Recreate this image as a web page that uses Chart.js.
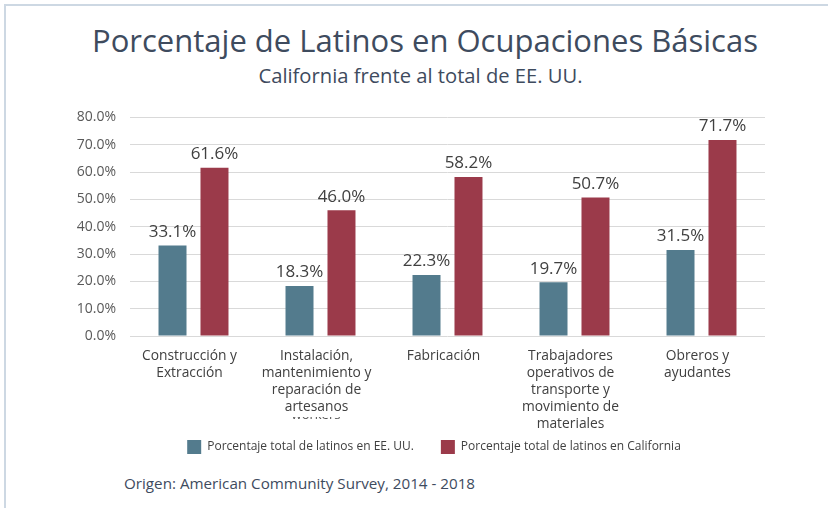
<!DOCTYPE html>
<html>
<head>
<meta charset="utf-8">
<script src="https://cdn.jsdelivr.net/npm/chart.js@4"></script>
<style>
  body { margin: 0; background: #fff; font-family: "Open Sans", sans-serif; }
  #page { position: relative; width: 828px; height: 508px; overflow: hidden; }
  #frame { position: absolute; left: 4px; top: 4px; right: 0; bottom: 0;
           border-left: 2px solid #cdd8e3; border-top: 2px solid #cdd8e3; }
  #title { position: absolute; left: 0; width: 850px; top: 19px; text-align: center;
           font-size: 31px; color: #3e4b5e; }
  #subtitle { position: absolute; left: 0; width: 841px; top: 61px; text-align: center;
              font-size: 20.2px; color: #3e4b5e; }
  #source { position: absolute; left: 124px; top: 473px; font-size: 15.2px; color: #3e4b5e; }
  #cut { position: absolute; left: 275px; width: 82px; top: 417px; height: 4px; overflow: hidden;
         text-align: center; font-size: 13px; color: #555; }
  #cut span { position: relative; top: -12px; }
  #wrap { position: absolute; left: 0; top: 95px; width: 828px; height: 371px; }
</style>
</head>
<body>
<div id="page">
  <div id="frame"></div>
  <div id="title">Porcentaje de Latinos en Ocupaciones Básicas</div>
  <div id="subtitle">California frente al total de EE. UU.</div>
  <div id="wrap"><canvas id="chart"></canvas></div>
  <div id="cut"><span>workers</span></div>
  <div id="source">Origen: American Community Survey, 2014 - 2018</div>
</div>
<script>
  var categories = [
    ["Construcción y", "Extracción"],
    ["Instalación,", "mantenimiento y", "reparación de", "artesanos"],
    ["Fabricación"],
    ["Trabajadores", "operativos de", "transporte y", "movimiento de", "materiales"],
    ["Obreros y", "ayudantes"]
  ];
  var usValues = [33.1, 18.3, 22.3, 19.7, 31.5];
  var caValues = [61.6, 46.0, 58.2, 50.7, 71.7];
  var seriesNames = ["Porcentaje total de latinos en EE. UU.", "Porcentaje total de latinos en California"];

  var blue = "#537b8d";
  var red = "#9b3a4a";

  var valueLabels = {
    id: "valueLabels",
    afterDatasetsDraw: function (chart) {
      var ctx = chart.ctx;
      ctx.save();
      ctx.font = '17px "Open Sans", sans-serif';
      ctx.fillStyle = "#404040";
      ctx.textAlign = "center";
      ctx.textBaseline = "bottom";
      chart.data.datasets.forEach(function (ds, i) {
        chart.getDatasetMeta(i).data.forEach(function (bar, j) {
          ctx.fillText(ds.data[j].toFixed(1) + "%", bar.x, bar.y - 5);
        });
      });
      ctx.restore();
    }
  };

  new Chart(document.getElementById("chart"), {
    type: "bar",
    data: {
      labels: categories,
      datasets: [
        { label: seriesNames[0], data: usValues, backgroundColor: blue },
        { label: seriesNames[1], data: caValues, backgroundColor: red }
      ]
    },
    options: {
      responsive: true,
      maintainAspectRatio: false,
      animation: false,
      datasets: { bar: { categoryPercentage: 0.661, barPercentage: 0.667 } },
      layout: { padding: { left: 40, right: 0, top: 21, bottom: 2 } },
      plugins: {
        tooltip: { enabled: false },
        legend: {
          position: "bottom",
          labels: {
            boxWidth: 14,
            boxHeight: 14,
            padding: 7,
            color: "#404040",
            font: { family: '"Open Sans", sans-serif', size: 12 },
            generateLabels: function (chart) {
              var items = Chart.defaults.plugins.legend.labels.generateLabels(chart);
              items[0].text = items[0].text + "\u2003\u2002\u2009";
              return items;
            }
          }
        }
      },
      scales: {
        x: {
          afterFit: function (axis) { axis.height = 97; },
          grid: { display: false, drawTicks: false },
          border: { display: false },
          ticks: {
            color: "#404040",
            padding: 11,
            labelOffset: -4,
            maxRotation: 0,
            autoSkip: false,
            font: { family: '"Open Sans", sans-serif', size: 13.8, lineHeight: 1.246 }
          }
        },
        y: {
          min: 0,
          max: 80,
          afterFit: function (axis) { axis.width = 90; },
          grid: { color: "#d9d9d9", drawTicks: false },
          border: { display: false },
          ticks: {
            stepSize: 10,
            padding: 14,
            color: "#595959",
            font: { family: '"Open Sans", sans-serif', size: 14 },
            callback: function (v) { return v.toFixed(1) + "%"; }
          }
        },
        yRight: {
          position: "right",
          afterFit: function (axis) { axis.width = 63; },
          grid: { display: false, drawTicks: false },
          border: { display: false },
          ticks: { display: false }
        }
      }
    },
    plugins: [valueLabels]
  });
</script>
</body>
</html>
